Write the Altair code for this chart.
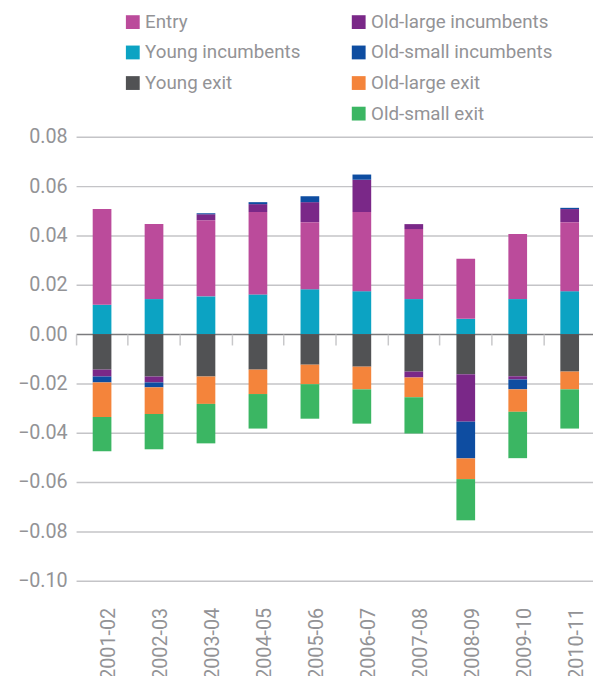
import altair as alt
import pandas as pd

years = ["2001-02", "2002-03", "2003-04", "2004-05", "2005-06",
         "2006-07", "2007-08", "2008-09", "2009-10", "2010-11"]

young_inc = [0.0119, 0.0142, 0.0153, 0.0161, 0.0182, 0.0174, 0.0142, 0.0062, 0.0142, 0.0174]
entry = [0.0388, 0.0304, 0.0309, 0.0334, 0.0272, 0.0321, 0.0284, 0.0244, 0.0264, 0.0280]
old_large_inc_pos = [0, 0, 0.0024, 0.0032, 0.0081, 0.0131, 0.0020, 0, 0, 0.0053]
old_small_inc_pos = [0, 0, 0.0004, 0.0008, 0.0024, 0.0021, 0, 0, 0, 0.0005]
young_exit = [-0.0144, -0.0172, -0.0172, -0.0144, -0.0124, -0.0132, -0.0152, -0.0163, -0.0171, -0.0152]
old_large_inc_neg = [-0.0028, -0.0024, 0, 0, 0, 0, -0.0024, -0.0192, -0.0013, 0]
old_small_inc_neg = [-0.0024, -0.0020, 0, 0, 0, 0, 0, -0.0149, -0.0040, 0]
old_large_exit = [-0.0140, -0.0108, -0.0111, -0.0099, -0.0079, -0.0092, -0.0080, -0.0084, -0.0091, -0.0072]
old_small_exit = [-0.0139, -0.0143, -0.0160, -0.0140, -0.0140, -0.0139, -0.0147, -0.0167, -0.0188, -0.0159]

y_ticks = [-0.10, -0.08, -0.06, -0.04, -0.02, 0.00, 0.02, 0.04, 0.06, 0.08]

# legend laid out column by column (blank slot keeps the first column one row shorter)
legend_domain = ["Entry", "Young incumbents", "Young exit", " ",
                 "Old-large incumbents", "Old-small incumbents", "Old-large exit", "Old-small exit"]
legend_colors = ["#BB4B9B", "#0CA3C3", "#515254", "#FFFFFF",
                 "#7A2888", "#0E4DA1", "#F4843B", "#3BB663"]

rows = []


def add(name, order, vals):
    for yr, v in zip(years, vals):
        if v != 0:
            rows.append({"year": yr, "series": name, "value": v, "ord": order})


add("Young incumbents", 1, young_inc)
add("Young exit", 2, young_exit)
add("Entry", 3, entry)
add("Old-large incumbents", 4, old_large_inc_pos)
add("Old-large incumbents", 4, old_large_inc_neg)
add("Old-small incumbents", 5, old_small_inc_pos)
add("Old-small incumbents", 5, old_small_inc_neg)
add("Old-large exit", 6, old_large_exit)
add("Old-small exit", 7, old_small_exit)

df = pd.DataFrame(rows)

FONT = "Roboto"
TXT = "#939396"

chart = alt.Chart(df).mark_bar(width=alt.RelativeBandSize(0.36)).encode(
    x=alt.X(
        "year:N", sort=years,
        scale=alt.Scale(range=[0, 526.7], paddingInner=0, paddingOuter=0),
        axis=alt.Axis(
            title=None, offset=-250, domain=False,
            tickSize=11, tickColor="#c8c8ca", tickWidth=1.5, bandPosition=0,
            labelAngle=270, labelAlign="right", labelBaseline="middle",
            labelOffset=7, labelPadding=266, labelFontSize=20,
            labelColor=TXT, labelFont=FONT, grid=False,
        ),
    ),
    y=alt.Y(
        "value:Q", stack="zero",
        scale=alt.Scale(domain=[-0.10, 0.08], nice=False),
        axis=alt.Axis(
            title=None, values=y_ticks, format=".2f", domain=False, ticks=False,
            labelPadding=9, labelFontSize=20, labelColor=TXT, labelFont=FONT,
            grid=True,
            gridColor=alt.condition("datum.value === 0", alt.value("#7b7b7e"), alt.value("#c4c4c7")),
            gridWidth=1.5,
        ),
    ),
    color=alt.Color(
        "series:N",
        scale=alt.Scale(domain=legend_domain, range=legend_colors),
        legend=alt.Legend(
            title=None, orient="none", legendX=48, legendY=-126, columns=2,
            symbolType="square", symbolSize=196, symbolStrokeWidth=0,
            labelFontSize=19, labelFont=FONT, labelColor=TXT, labelOffset=3,
            labelLimit=300, rowPadding=11, columnPadding=49, padding=0,
        ),
    ),
    order=alt.Order("ord:Q", sort="ascending"),
).properties(
    width=524, height=450,
    autosize=alt.AutoSizeParams(type="none"),
    padding={"left": 69, "top": 126, "right": 0, "bottom": 92},
).configure_view(stroke=None)

chart.save("out.html", embed_options={"renderer": "svg", "actions": False})
